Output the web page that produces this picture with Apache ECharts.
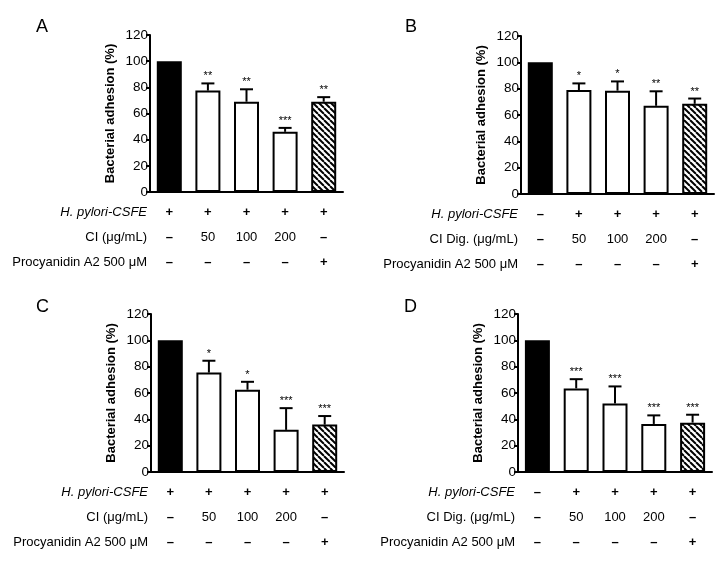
<!DOCTYPE html>
<html>
<head>
<meta charset="utf-8">
<script src="https://cdn.jsdelivr.net/npm/echarts@6/dist/echarts.min.js"></script>
<style>html,body{margin:0;padding:0;background:#fff}#c{width:727px;height:561px}</style>
</head>
<body>
<div id="c"></div>
<script>
// ---- data ----
var groups = ['Control', 'CI 50', 'CI 100', 'CI 200', 'PA2'];
var panelLetters = ['A', 'B', 'C', 'D'];
var yTicksMax = 120;
var yInterval = 20;
var yName = 'Bacterial adhesion (%)';

var meansA = [100, 77.5, 69, 46, 69];
var sdA    = [0, 5.5, 9.5, 3, 3.5];
var sigA   = ['', '**', '**', '***', '**'];

var meansB = [100, 79, 78.5, 67, 68.5];
var sdB    = [0, 5, 7, 11, 4];
var sigB   = ['', '*', '*', '**', '**'];

var meansC = [100, 75.5, 62.5, 32, 36];
var sdC    = [0, 9, 6, 16.5, 6.5];
var sigC   = ['', '*', '*', '***', '***'];

var meansD = [100, 63.5, 52, 36.5, 37.5];
var sdD    = [0, 7, 13, 6.5, 6];
var sigD   = ['', '***', '***', '***', '***'];

var rowNames1 = ['H. pylori-CSFE', 'CI (\u03bcg/mL)', 'Procyanidin A2 500 \u03bcM'];
var rowNames2 = ['H. pylori-CSFE', 'CI Dig. (\u03bcg/mL)', 'Procyanidin A2 500 \u03bcM'];
var rowPylori1 = ['+', '+', '+', '+', '+'];
var rowPylori2 = ['\u2013', '+', '+', '+', '+'];
var rowCI      = ['\u2013', '50', '100', '200', '\u2013'];
var rowPA2     = ['\u2013', '\u2013', '\u2013', '\u2013', '+'];

var panels = [
  {means: meansA, sd: sdA, sig: sigA, names: rowNames1, rows: [rowPylori1, rowCI, rowPA2]},
  {means: meansB, sd: sdB, sig: sigB, names: rowNames2, rows: [rowPylori2, rowCI, rowPA2]},
  {means: meansC, sd: sdC, sig: sigC, names: rowNames1, rows: [rowPylori1, rowCI, rowPA2]},
  {means: meansD, sd: sdD, sig: sigD, names: rowNames2, rows: [rowPylori2, rowCI, rowPA2]}
];

// ---- layout / style ----
var FONT = '"Liberation Sans", Arial, Helvetica, sans-serif';
var gridBoxes = [
  {left: 150, top: 35, width: 193, height: 157},
  {left: 521, top: 36, width: 193, height: 158},
  {left: 151, top: 314, width: 193, height: 158},
  {left: 518, top: 314, width: 194, height: 158}
];
var letterPos = [{left: 31, top: 13}, {left: 400, top: 13}, {left: 31, top: 293}, {left: 399, top: 293}];
var rowOffsets = [20, 45, 70];

// hatch pattern
var pc = document.createElement('canvas');
pc.width = 6; pc.height = 6;
var ctx = pc.getContext('2d');
ctx.fillStyle = '#fff'; ctx.fillRect(0, 0, 6, 6);
ctx.strokeStyle = '#000'; ctx.lineWidth = 2;
[-6, 0, 6].forEach(function (k) { ctx.beginPath(); ctx.moveTo(k, 0); ctx.lineTo(k + 6, 6); ctx.stroke(); });
var hatch = {image: pc, repeat: 'repeat'};
var fills = ['#000', '#fff', '#fff', '#fff', hatch];

var grid = [], xAxis = [], yAxis = [], series = [], title = [];

panels.forEach(function (p, pi) {
  grid.push(gridBoxes[pi]);
  title.push({text: panelLetters[pi], left: letterPos[pi].left, top: letterPos[pi].top,
    textStyle: {fontFamily: FONT, fontSize: 18, fontWeight: 'normal', color: '#000'}});
  // main axis
  xAxis.push({type: 'category', gridIndex: pi, data: groups, boundaryGap: true,
    axisLine: {lineStyle: {color: '#000', width: 2}},
    axisTick: {alignWithLabel: true, length: 5, lineStyle: {color: '#000', width: 2}},
    axisLabel: {show: false}, splitLine: {show: false}});
  // table rows as axes
  p.rows.forEach(function (row, ri) {
    xAxis.push({type: 'category', gridIndex: pi, data: row, position: 'bottom', offset: rowOffsets[ri],
      boundaryGap: true,
      name: p.names[ri], nameLocation: 'start', nameGap: 3,
      nameTextStyle: {fontFamily: FONT, fontSize: 13, color: '#000', fontStyle: ri === 0 ? 'italic' : 'normal',
        align: 'right', verticalAlign: 'middle'},
      axisLine: {show: false}, axisTick: {show: false}, splitLine: {show: false},
      axisLabel: {interval: 0, margin: 0, verticalAlign: 'middle', fontFamily: FONT, fontSize: 13, color: '#000',
        formatter: function (v) { return (v === '+' || v === '\u2013') ? '{b|' + v + '}' : v; },
        rich: {b: {fontFamily: FONT, fontSize: 13, fontWeight: 'bold', color: '#000'}}}});
  });
  yAxis.push({type: 'value', gridIndex: pi, min: 0, max: yTicksMax, interval: yInterval,
    name: yName, nameLocation: 'middle', nameGap: 33,
    nameTextStyle: {fontFamily: FONT, fontSize: 13, fontWeight: 'bold', color: '#000'},
    axisLine: {show: true, lineStyle: {color: '#000', width: 2}},
    axisTick: {show: true, length: 4, lineStyle: {color: '#000', width: 2}},
    axisLabel: {fontFamily: FONT, fontSize: 13.5, color: '#000', margin: 2},
    splitLine: {show: false}});
  series.push({type: 'bar', xAxisIndex: pi * 4, yAxisIndex: pi, barWidth: 25,
    data: p.means.map(function (m, i) {
      return {value: m, itemStyle: {color: fills[i], borderColor: '#000', borderWidth: 2}};
    }),
    silent: true, animation: false});
  series.push({type: 'custom', xAxisIndex: pi * 4, yAxisIndex: pi, z: 5, animation: false, silent: true,
    clip: false,
    data: p.means.map(function (m, i) { return [i, m, p.sd[i]]; }),
    encode: {x: 0, y: 1},
    renderItem: function (params, api) {
      var i = api.value(0), m = api.value(1), s = api.value(2);
      var base = api.coord([i, m]);
      var top = api.coord([i, m + s]);
      var children = [];
      if (s > 0) {
        children.push({type: 'line', shape: {x1: base[0], y1: base[1], x2: top[0], y2: top[1]},
          style: {stroke: '#000', lineWidth: 2}});
        children.push({type: 'line', shape: {x1: top[0] - 6.5, y1: top[1], x2: top[0] + 6.5, y2: top[1]},
          style: {stroke: '#000', lineWidth: 2}});
      }
      var sg = p.sig[params.dataIndex];
      if (sg) {
        children.push({type: 'text', style: {text: sg, x: top[0], y: top[1] - 7, align: 'center',
          verticalAlign: 'middle', fontFamily: FONT, fontSize: 11, fill: '#000'}});
      }
      return {type: 'group', children: children};
    }});
});

var chart = echarts.init(document.getElementById('c'), null, {renderer: 'canvas'});
chart.setOption({backgroundColor: '#fff', animation: false, title: title, grid: grid,
  xAxis: xAxis, yAxis: yAxis, series: series});
</script>
</body>
</html>
